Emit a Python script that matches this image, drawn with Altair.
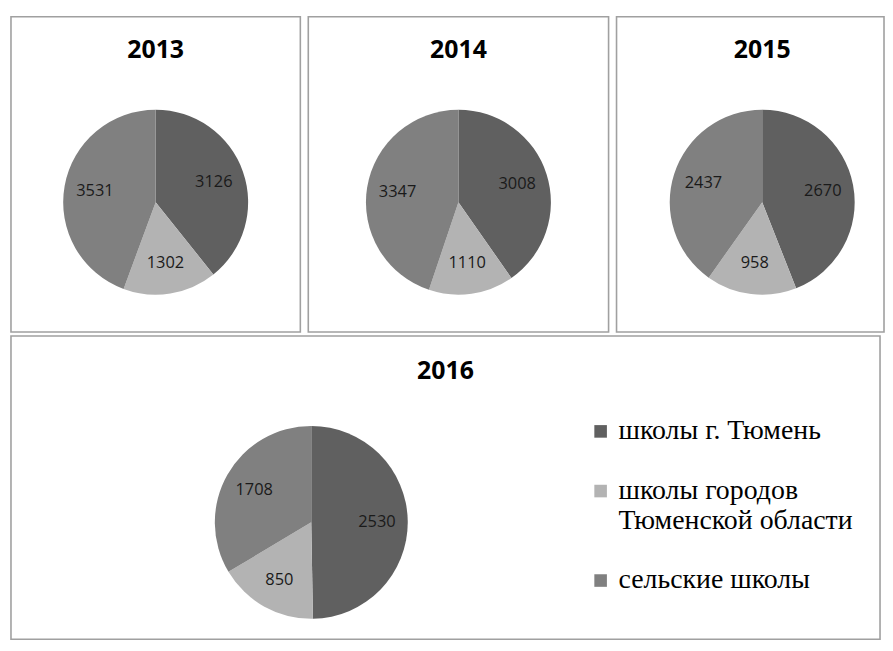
import altair as alt
import pandas as pd

years = ["2013", "2014", "2015", "2016"]
categories = ["школы г. Тюмень", "школы городов Тюменской области", "сельские школы"]
tyumen = [3126, 3008, 2670, 2530]
cities = [1302, 1110, 958, 850]
rural = [3531, 3347, 2437, 1708]
colors = ["#606060", "#b3b3b3", "#808080"]

rows = []
for i, y in enumerate(years):
    for j, (cat, vals) in enumerate(zip(categories, [tyumen, cities, rural])):
        rows.append({"year": y, "cat": cat, "idx": j, "value": vals[i]})
df = pd.DataFrame(rows)

color_scale = alt.Scale(domain=categories, range=colors)


def make_pie(year, w, h, R, r_label, xoff, yoff, title_y, legend):
    base = alt.Chart(df).transform_filter(alt.datum.year == year)
    color = alt.Color("cat:N", scale=color_scale, sort=categories, legend=legend)
    arc = base.mark_arc(outerRadius=R, xOffset=xoff, yOffset=yoff).encode(
        theta=alt.Theta("value:Q", stack=True),
        order=alt.Order("idx:Q"),
        color=color,
    )
    txt = base.mark_text(radius=r_label, xOffset=xoff, yOffset=yoff, font="Open Sans",
                         fontSize=16.5, color="#1a1a1a").encode(
        theta=alt.Theta("value:Q", stack=True),
        order=alt.Order("idx:Q"),
        text=alt.Text("value:Q"),
    )
    ttl = base.transform_filter(alt.datum.idx == 0).mark_text(
        font="Open Sans", fontSize=25, fontWeight="bold", color="#000000",
        yOffset=title_y - h / 2, xOffset=xoff if abs(xoff) < 20 else 0,
        baseline="middle", align="center",
    ).encode(text=alt.Text("year:N"))
    return alt.layer(arc, txt, ttl).properties(
        width=w, height=h,
        view=alt.ViewBackground(stroke="#a0a0a0", strokeWidth=1.6, fill="white"),
    )


legend = alt.Legend(
    orient="none", legendX=579, legendY=82, title=None,
    labelFont="Liberation Serif", labelFontSize=28, labelColor="#000000",
    symbolType="square", symbolSize=160, symbolStrokeWidth=0, symbolOpacity=1,
    labelOffset=4, labelLimit=400, rowPadding=32, padding=0,
    labelExpr="datum.label == 'школы городов Тюменской области' ? ['школы городов', 'Тюменской области'] : datum.label",
)

p13 = make_pie("2013", 291, 317, 93, 62, 0, 28, 33, None)
p14 = make_pie("2014", 302, 317, 93, 62, 0, 28, 33, None)
p15 = make_pie("2015", 269, 317, 93, 62, 12, 28, 33, None)
p16 = make_pie("2016", 874, 305, 97, 66, -135, 35, 35, legend)

top = alt.hconcat(p13, p14, p15, spacing=6).resolve_legend(color="independent")
chart = alt.vconcat(top, p16, spacing=2).resolve_legend(color="independent").properties(
    padding={"left": 2, "top": 6, "right": 0, "bottom": 0},
    background="white",
)

chart.save("out.html", embed_options={"renderer": "svg", "actions": False})
